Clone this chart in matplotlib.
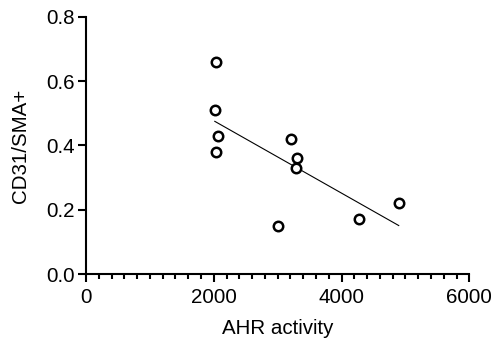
import numpy as np
import matplotlib
matplotlib.use('Agg')
import matplotlib.pyplot as plt
from matplotlib.ticker import MultipleLocator, FormatStrFormatter

# data
ahr_activity = [2031, 2016, 2062, 2031, 3203, 3302, 3281, 3011, 4270, 4895]
cd31_sma = [0.66, 0.51, 0.43, 0.38, 0.42, 0.36, 0.33, 0.15, 0.17, 0.22]

plt.rcParams['font.family'] = ['Liberation Sans', 'DejaVu Sans']

fig = plt.figure(figsize=(4.93, 3.5), dpi=100)
ax = fig.add_axes([0.1744, 0.217, 0.7776, 0.735])

# linear fit line over the data range
x = np.array(ahr_activity)
y = np.array(cd31_sma)
slope, icpt = np.polyfit(x, y, 1)
xs = np.array([x.min(), x.max()])
ax.plot(xs, slope * xs + icpt, color='black', lw=0.8, zorder=2)

ax.plot(ahr_activity, cd31_sma, 'o', ms=6.8, mfc='white', mec='black', mew=1.8,
        zorder=3, clip_on=False)

ax.set_xlim(0, 6000)
ax.set_ylim(0, 0.8)
ax.xaxis.set_major_locator(MultipleLocator(2000))
ax.xaxis.set_minor_locator(MultipleLocator(200))
ax.yaxis.set_major_locator(MultipleLocator(0.2))
ax.yaxis.set_major_formatter(FormatStrFormatter('%.1f'))

for s in ['top', 'right']:
    ax.spines[s].set_visible(False)
for s in ['left', 'bottom']:
    ax.spines[s].set_linewidth(1.5)

ax.tick_params(axis='both', which='major', length=6, width=1.5, labelsize=14.8,
               direction='out', pad=2)
ax.tick_params(axis='x', which='major', pad=4)
ax.tick_params(axis='x', which='minor', length=3.5, width=1.5, direction='out')

ax.set_xlabel('AHR activity', fontsize=14.8, labelpad=9)
ax.set_ylabel('CD31/SMA+', fontsize=14.8, labelpad=12)

fig.savefig('out.png', dpi=100)
